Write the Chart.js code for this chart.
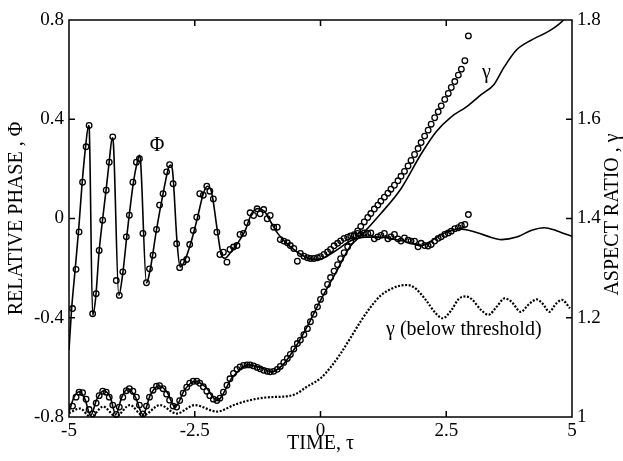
<!DOCTYPE html>
<html>
<head>
<meta charset="utf-8">
<script src="https://cdn.jsdelivr.net/npm/chart.js@4"></script>
<style>
  html, body { margin: 0; padding: 0; background: #fff; }
  #wrap { width: 623px; height: 461px; }
</style>
</head>
<body>
<div id="wrap"><canvas id="chart"></canvas></div>
<script>
// tick values of the three axes
const xTicks = [-5, -2.5, 0, 2.5, 5];
const phiTicks = [-0.8, -0.4, 0, 0.4, 0.8];
const gammaTicks = [1, 1.2, 1.4, 1.6, 1.8];

// solid curve of the relative phase
const phiLineT = [-5.00, -4.95, -4.88, -4.81, -4.74, -4.67, -4.61, -4.60, -4.53, -4.47,
  -4.40, -4.33, -4.26, -4.20, -4.14, -4.12, -4.01, -3.93, -3.85, -3.72,
  -3.64, -3.60, -3.58, -3.46, -3.39, -3.26, -3.13, -3.02, -2.98, -2.94,
  -2.85, -2.79, -2.72, -2.58, -2.45, -2.33, -2.25, -2.17, -2.05, -1.98,
  -1.90, -1.80, -1.65, -1.50, -1.38, -1.25, -1.12, -1.00, -0.85, -0.70,
  -0.50, -0.30, -0.10, 0.05, 0.30, 0.60, 0.90, 1.20, 1.50, 1.80,
  2.00, 2.20, 2.45, 2.75, 3.00, 3.30, 3.60, 3.90, 4.20, 4.45, 4.70, 5.00];
const phiLine = [-0.53, -0.37, -0.21, -0.05, 0.14, 0.29, 0.375, 0.37, -0.39, -0.32,
  -0.13, 0.0, 0.12, 0.23, 0.325, 0.31, -0.31, -0.22, -0.07, 0.145,
  0.23, 0.255, 0.24, -0.26, -0.21, -0.045, 0.10, 0.205, 0.215, 0.19,
  -0.10, -0.195, -0.18, -0.10, 0.0, 0.10, 0.13, 0.11, -0.05, -0.14,
  -0.16, -0.14, -0.10, -0.05, 0.015, 0.04, 0.03, -0.01, -0.06, -0.095,
  -0.13, -0.155, -0.165, -0.16, -0.13, -0.09, -0.075, -0.075, -0.085, -0.10,
  -0.11, -0.09, -0.06, -0.042, -0.05, -0.07, -0.085, -0.075, -0.047, -0.037, -0.05, -0.072];

// solid curve of the aspect ratio
const gammaLineT = [-5.00, -4.90, -4.79, -4.68, -4.57, -4.45, -4.31, -4.18, -4.07, -3.95,
  -3.83, -3.68, -3.53, -3.38, -3.21, -3.05, -2.89, -2.70, -2.49, -2.28,
  -2.06, -1.75, -1.43, -1.20, -0.97, -0.75, -0.50, -0.25, 0.00, 0.30,
  0.60, 0.80, 1.20, 1.60, 2.00, 2.30, 2.60, 2.90, 3.20, 3.45,
  3.65, 3.90, 4.20, 4.55, 4.83, 5.00];
const gammaLine = [1.01, 1.04, 1.051, 1.035, 1.003, 1.035, 1.053, 1.04, 1.005, 1.04,
  1.057, 1.04, 1.005, 1.045, 1.063, 1.05, 1.02, 1.055, 1.072, 1.06,
  1.033, 1.08, 1.105, 1.10, 1.091, 1.105, 1.14, 1.185, 1.235, 1.29,
  1.345, 1.365, 1.41, 1.46, 1.53, 1.575, 1.605, 1.625, 1.65, 1.67,
  1.705, 1.74, 1.76, 1.778, 1.80, 1.825];

// circles (both quantities share the same times)
const tCircles = [-4.93, -4.86, -4.80, -4.73, -4.66, -4.60, -4.53, -4.46, -4.40, -4.33,
  -4.26, -4.20, -4.13, -4.06, -4.00, -3.93, -3.86, -3.80, -3.73, -3.66,
  -3.60, -3.53, -3.46, -3.40, -3.33, -3.26, -3.20, -3.13, -3.06, -3.00,
  -2.93, -2.86, -2.80, -2.73, -2.66, -2.60, -2.53, -2.46, -2.40, -2.33,
  -2.26, -2.20, -2.13, -2.06, -2.00, -1.93, -1.86, -1.80, -1.73, -1.66,
  -1.60, -1.53, -1.46, -1.40, -1.33, -1.26, -1.20, -1.13, -1.06, -1.00,
  -0.93, -0.86, -0.80, -0.73, -0.66, -0.60, -0.53, -0.46, -0.40, -0.33,
  -0.26, -0.20, -0.13, -0.06, 0.00, 0.07, 0.14, 0.20, 0.27, 0.34,
  0.40, 0.47, 0.54, 0.60, 0.67, 0.74, 0.80, 0.87, 0.94, 1.00,
  1.07, 1.14, 1.20, 1.27, 1.34, 1.40, 1.47, 1.54, 1.60, 1.67,
  1.74, 1.80, 1.87, 1.94, 2.00, 2.07, 2.14, 2.20, 2.27, 2.34,
  2.40, 2.47, 2.54, 2.60, 2.67, 2.74, 2.80, 2.87, 2.94];
const phiCircles = [-0.363, -0.205, -0.054, 0.146, 0.289, 0.375, -0.384, -0.303, -0.129, -0.007,
  0.114, 0.227, 0.329, -0.25, -0.31, -0.215, -0.074, 0.013, 0.146, 0.227,
  0.241, -0.06, -0.259, -0.203, -0.148, -0.044, 0.054, 0.10, 0.188, 0.217,
  0.14, -0.102, -0.198, -0.176, -0.165, -0.105, -0.048, 0.005, 0.10, 0.094,
  0.13, 0.11, 0.079, -0.055, -0.145, -0.136, -0.176, -0.125, -0.115, -0.109,
  -0.064, -0.06, -0.017, 0.023, 0.012, 0.039, 0.019, 0.036, -0.001, 0.012,
  -0.035, -0.035, -0.085, -0.091, -0.098, -0.109, -0.121, -0.172, -0.141, -0.152,
  -0.158, -0.161, -0.161, -0.158, -0.154, -0.145, -0.135, -0.125, -0.11, -0.10,
  -0.09, -0.08, -0.075, -0.07, -0.065, -0.06, -0.065, -0.058, -0.06, -0.058,
  -0.082, -0.074, -0.068, -0.06, -0.082, -0.074, -0.064, -0.082, -0.091, -0.078,
  -0.087, -0.091, -0.091, -0.114, -0.10, -0.109, -0.111, -0.105, -0.091, -0.08,
  -0.074, -0.064, -0.058, -0.051, -0.041, -0.037, -0.028, -0.024, 0.016];
const gammaCircles = [1.022, 1.040, 1.050, 1.049, 1.036, 1.015, 1.006, 1.028, 1.043, 1.052,
  1.050, 1.040, 1.024, 1.005, 1.020, 1.040, 1.053, 1.057, 1.052, 1.040,
  1.024, 1.006, 1.022, 1.040, 1.054, 1.062, 1.063, 1.057, 1.046, 1.034,
  1.022, 1.020, 1.033, 1.048, 1.060, 1.068, 1.072, 1.072, 1.068, 1.061,
  1.052, 1.043, 1.036, 1.033, 1.038, 1.050, 1.064, 1.077, 1.088, 1.096,
  1.101, 1.104, 1.105, 1.105, 1.103, 1.100, 1.097, 1.094, 1.092, 1.091,
  1.092, 1.096, 1.102, 1.110, 1.118, 1.126, 1.137, 1.148, 1.155, 1.166,
  1.178, 1.192, 1.207, 1.222, 1.237, 1.252, 1.267, 1.281, 1.294, 1.307,
  1.319, 1.331, 1.343, 1.354, 1.365, 1.375, 1.384, 1.393, 1.402, 1.410,
  1.419, 1.427, 1.435, 1.443, 1.451, 1.459, 1.467, 1.476, 1.485, 1.495,
  1.506, 1.517, 1.529, 1.541, 1.553, 1.566, 1.578, 1.590, 1.603, 1.615,
  1.627, 1.640, 1.652, 1.664, 1.676, 1.689, 1.701, 1.718, 1.768];

// aspect ratio below threshold (dotted)
const belowT = [-5.00, -4.78, -4.57, -4.32, -4.07, -3.79, -3.53, -3.19, -2.86, -2.50,
  -2.06, -1.70, -1.40, -1.00, -0.74, -0.50, -0.27, 0.00, 0.20, 0.40,
  0.60, 0.80, 1.00, 1.20, 1.40, 1.60, 1.73, 1.90, 2.10, 2.30,
  2.43, 2.60, 2.75, 2.88, 3.00, 3.20, 3.34, 3.50, 3.66, 3.80,
  3.98, 4.15, 4.30, 4.42, 4.55, 4.68, 4.80, 4.96];
const gammaBelow = [1.008, 1.017, 1.000, 1.021, 1.001, 1.024, 1.003, 1.024, 1.007, 1.024,
  1.011, 1.025, 1.034, 1.040, 1.041, 1.046, 1.061, 1.078, 1.10, 1.128,
  1.16, 1.193, 1.222, 1.245, 1.258, 1.265, 1.266, 1.258, 1.235, 1.208,
  1.199, 1.215, 1.238, 1.243, 1.238, 1.215, 1.206, 1.222, 1.239, 1.232,
  1.212, 1.228, 1.237, 1.228, 1.212, 1.228, 1.236, 1.219];

const pts = (xs, ys) => xs.map((x, i) => ({ x: x, y: ys[i] }));
const serif = '"Liberation Serif", "DejaVu Serif", serif';
const tickFont = { family: serif, size: 19 };
const titleFont = { family: serif, size: 20 };

// frame, inward ticks, curve labels and the right title
const framePlugin = {
  id: 'frame',
  afterDatasetsDraw(chart) {
    const { ctx, chartArea: a, scales } = chart;
    ctx.save();
    ctx.strokeStyle = '#000';
    ctx.lineWidth = 1.5;
    ctx.strokeRect(a.left, a.top, a.right - a.left, a.bottom - a.top);
    ctx.beginPath();
    xTicks.slice(1, -1).forEach(v => {
      const p = scales.x.getPixelForValue(v);
      ctx.moveTo(p, a.top); ctx.lineTo(p, a.top + 6);
      ctx.moveTo(p, a.bottom); ctx.lineTo(p, a.bottom - 6);
    });
    phiTicks.slice(1, -1).forEach(v => {
      const p = scales.y.getPixelForValue(v);
      ctx.moveTo(a.left, p); ctx.lineTo(a.left + 6, p);
    });
    gammaTicks.slice(1, -1).forEach(v => {
      const p = scales.y2.getPixelForValue(v);
      ctx.moveTo(a.right, p); ctx.lineTo(a.right - 6, p);
    });
    ctx.stroke();

    ctx.fillStyle = '#000';
    ctx.font = '20px ' + serif;
    ctx.textAlign = 'center';
    ctx.textBaseline = 'middle';
    ctx.fillText('Φ', scales.x.getPixelForValue(-3.25), scales.y.getPixelForValue(0.295));
    ctx.fillText('γ', scales.x.getPixelForValue(3.3), scales.y2.getPixelForValue(1.693));
    ctx.fillText('γ (below threshold)', scales.x.getPixelForValue(2.85), scales.y2.getPixelForValue(1.175));

    ctx.translate(613, (a.top + a.bottom) / 2 - 4);
    ctx.rotate(-Math.PI / 2);
    ctx.fillText('ASPECT RATIO , γ', 0, 0);
    ctx.restore();
  }
};

new Chart(document.getElementById('chart'), {
  type: 'line',
  data: {
    datasets: [
      {
        data: pts(phiLineT, phiLine), yAxisID: 'y',
        borderColor: '#000', borderWidth: 1.6, pointRadius: 0,
        cubicInterpolationMode: 'monotone', clip: 0
      },
      {
        data: pts(gammaLineT, gammaLine), yAxisID: 'y2',
        borderColor: '#000', borderWidth: 1.6, pointRadius: 0,
        cubicInterpolationMode: 'monotone', clip: 0
      },
      {
        data: pts(belowT, gammaBelow), yAxisID: 'y2',
        borderColor: '#000', borderWidth: 2.2, borderDash: [2, 1.6], pointRadius: 0,
        cubicInterpolationMode: 'monotone', clip: 0
      },
      {
        data: pts(tCircles, phiCircles), yAxisID: 'y',
        showLine: false, pointRadius: 2.8, pointBorderWidth: 1.3,
        pointBorderColor: '#000', pointBackgroundColor: 'rgba(255,255,255,0)', clip: 4
      },
      {
        data: pts(tCircles, gammaCircles), yAxisID: 'y2',
        showLine: false, pointRadius: 2.8, pointBorderWidth: 1.3,
        pointBorderColor: '#000', pointBackgroundColor: 'rgba(255,255,255,0)', clip: 4
      }
    ]
  },
  options: {
    responsive: true,
    maintainAspectRatio: false,
    animation: false,
    devicePixelRatio: 1,
    layout: { padding: { top: 20, left: 0, right: 0, bottom: 0 } },
    plugins: { legend: { display: false }, tooltip: { enabled: false } },
    scales: {
      x: {
        type: 'linear', min: -5, max: 5,
        afterBuildTicks: s => { s.ticks = xTicks.map(v => ({ value: v })); },
        afterFit: s => { s.height = 44; },
        grid: { display: false, drawTicks: false },
        border: { display: false },
        ticks: { color: '#000', font: tickFont, padding: 3, maxRotation: 0, callback: v => String(v) },
        title: { display: true, text: 'TIME, τ', color: '#000', font: titleFont, padding: { top: 0, bottom: 5 } }
      },
      y: {
        type: 'linear', position: 'left', min: -0.8, max: 0.8,
        afterBuildTicks: s => { s.ticks = phiTicks.map(v => ({ value: v })); },
        afterFit: s => { s.width = 69; },
        grid: { display: false, drawTicks: false },
        border: { display: false },
        ticks: { color: '#000', font: tickFont, padding: 5, callback: v => String(v) },
        title: { display: true, text: 'RELATIVE PHASE , Φ', color: '#000', font: titleFont, padding: { top: 5, bottom: 0 } }
      },
      y2: {
        type: 'linear', position: 'right', min: 1, max: 1.8,
        afterBuildTicks: s => { s.ticks = gammaTicks.map(v => ({ value: v })); },
        afterFit: s => { s.width = 51; },
        grid: { display: false, drawTicks: false },
        border: { display: false },
        ticks: { color: '#000', font: tickFont, padding: 5, callback: v => String(v) }
      }
    }
  },
  plugins: [framePlugin]
});
</script>
</body>
</html>
